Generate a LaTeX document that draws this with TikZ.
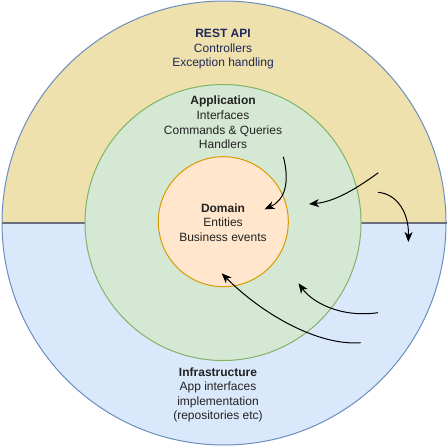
\documentclass[tikz,border=0pt]{standalone}
\usepackage{fontspec}
\setmainfont{Liberation Sans}
\usetikzlibrary{arrows.meta}
\definecolor{apiYellow}{RGB}{238,225,174}
\definecolor{infraBlue}{RGB}{218,232,252}
\definecolor{outerLine}{RGB}{108,142,191}
\definecolor{appGreen}{RGB}{213,232,212}
\definecolor{appLine}{RGB}{130,179,102}
\definecolor{domFill}{RGB}{255,230,204}
\definecolor{domLine}{RGB}{215,155,0}
\definecolor{divLine}{RGB}{108,111,125}
\definecolor{navyText}{RGB}{30,40,90}
\definecolor{darkText}{RGB}{34,34,34}
\tikzset{
  lbl/.style={align=center, font=\fontsize{9}{10.9}\selectfont, text=darkText, inner sep=0pt},
  flow/.style={draw=black, line width=0.75pt, -{Stealth[length=7.5pt, width=6pt, inset=2.2pt]}},
}
\begin{document}
\begin{tikzpicture}[x=0.75pt, y=-0.75pt]
\useasboundingbox (0,0) rectangle (448,446);
% outer circle halves
\begin{scope}
  \clip (0,0) rectangle (448,222.5);
  \fill[apiYellow] (224,223) circle (222);
\end{scope}
\begin{scope}
  \clip (0,222.5) rectangle (448,446);
  \fill[infraBlue] (224,223) circle (222);
\end{scope}
\node[circle, draw=outerLine, line width=0.75pt, minimum size=444*0.75pt, inner sep=0pt] (outer) at (224,223) {};
\draw[divLine, line width=1.6pt] (outer.west) -- (outer.east);
% application
\node[circle, draw=appLine, fill=appGreen, line width=0.75pt, minimum size=276*0.75pt, inner sep=0pt] (app) at (223,222.5) {};
% domain
\node[circle, draw=domLine, fill=domFill, line width=0.75pt, minimum size=130*0.75pt, inner sep=0pt] (dom) at (223.3,221.7) {};
% texts
\node[lbl, text=navyText] (apitxt) at (223,49.5) {\textbf{REST API}\\Controllers\\Exception handling};
\node[lbl] (apptxt) at (223,122.5) {\textbf{Application}\\Interfaces\\Commands \& Queries\\Handlers};
\node[lbl] (domtxt) at (223,222.3) {\textbf{Domain}\\Entities\\Business events};
\node[lbl] (inftxt) at (218,395) {\textbf{Infrastructure}\\App interfaces\\implementation\\(repositories etc)};
% arrow end points
\coordinate (a1s) at (283.3,156.7);
\coordinate (a1e) at (264.5,209.3);
\coordinate (a2s) at (378.3,172.7);
\coordinate (a2e) at (309,204);
\coordinate (a3s) at (378,192.3);
\coordinate (a3e) at (408.3,242);
\coordinate (a4s) at (378,312.7);
\coordinate (a4e) at (298.5,283.3);
\coordinate (a5s) at (360.7,342.7);
\coordinate (a5e) at (221.7,273.3);
\draw[flow] (a1s) .. controls (290,182) and (285,200) .. (a1e);
\draw[flow] (a2s) .. controls (352,192) and (332,202) .. (a2e);
\draw[flow] (a3s) .. controls (398,194) and (409,214) .. (a3e);
\draw[flow] (a4s) .. controls (340,318) and (312,302) .. (a4e);
\draw[flow] (a5s) .. controls (318,346) and (262,314) .. (a5e);
\end{tikzpicture}
\end{document}
